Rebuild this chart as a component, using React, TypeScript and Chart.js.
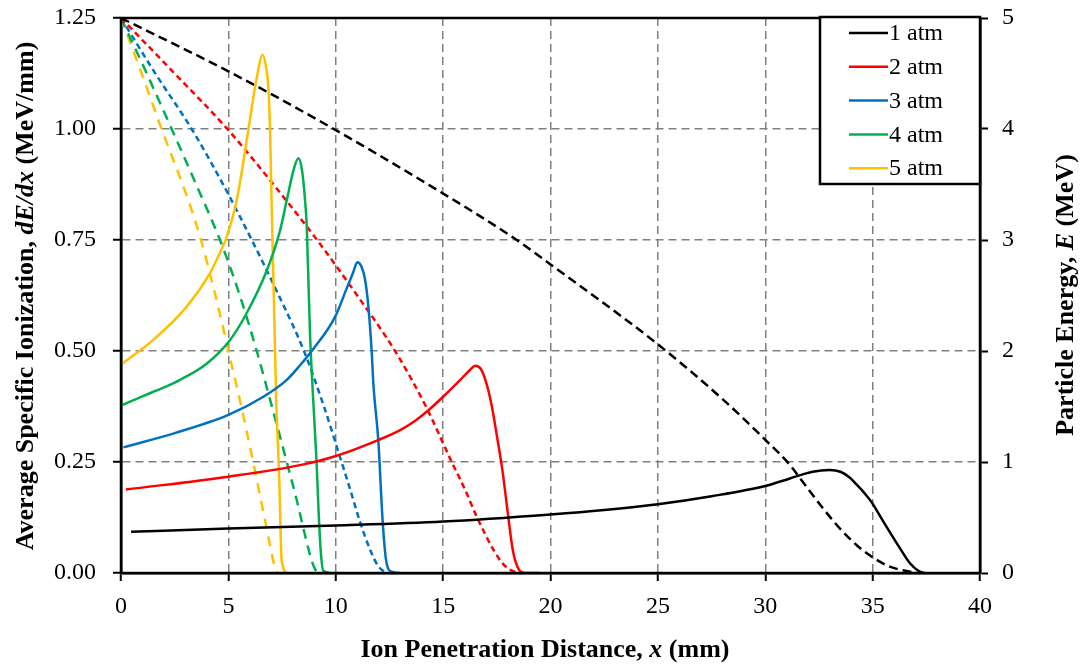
import React, { useEffect, useRef } from "react";
import { Chart, registerables } from "chart.js";

Chart.register(...registerables);

const FONT = "'Liberation Serif', 'Times New Roman', serif";

const seriesLabels = ["1 atm", "2 atm", "3 atm", "4 atm", "5 atm"];
const seriesColors = ["#000000", "#FF0000", "#0070C0", "#00B050", "#FFC000"];
const energyDashes = [[9, 5], [6, 4], [6, 4], [10, 7], [10, 8]];

// Average specific ionization dE/dx (MeV/mm), left axis
const atm1IonX = [0.47, 5, 10, 15, 20, 22.5, 25, 27.5, 30, 31.15, 32.2, 33.0, 33.5, 33.9, 34.26, 34.6, 34.96, 35.3, 35.65, 36.27, 36.74, 37.13, 37.4];
const atm1IonY = [0.093, 0.1, 0.107, 0.116, 0.132, 0.142, 0.155, 0.173, 0.196, 0.213, 0.228, 0.232, 0.228, 0.216, 0.199, 0.181, 0.159, 0.132, 0.104, 0.056, 0.022, 0.005, 0];
const atm2IonX = [0.23, 5, 8.34, 9.97, 12, 13, 13.7, 14.3, 15, 15.8, 16.2, 16.5, 16.75, 17.0, 17.25, 17.5, 17.75, 18.0, 18.25, 18.5, 18.8, 19.5];
const atm2IonY = [0.188, 0.217, 0.243, 0.263, 0.3, 0.322, 0.343, 0.366, 0.397, 0.435, 0.455, 0.467, 0.46, 0.43, 0.38, 0.31, 0.235, 0.14, 0.05, 0.01, 0, 0];
const atm3IonX = [0.11, 2.5, 5, 6.63, 7.72, 8.34, 8.88, 9.97, 10.51, 10.82, 11.0, 11.2, 11.36, 11.52, 11.67, 11.76, 11.98, 12.18, 12.34, 12.6, 12.99];
const atm3IonY = [0.283, 0.315, 0.356, 0.397, 0.435, 0.468, 0.5, 0.577, 0.641, 0.678, 0.7, 0.69, 0.662, 0.6, 0.502, 0.42, 0.3, 0.12, 0.03, 0.003, 0];
const atm4IonX = [0.05, 1.0, 2.0, 2.75, 4.0, 5.08, 5.85, 6.78, 7.4, 7.72, 8.05, 8.26, 8.42, 8.57, 8.65, 8.8, 8.95, 9.11, 9.2, 9.3, 9.42, 9.8];
const atm4IonY = [0.378, 0.398, 0.418, 0.435, 0.472, 0.525, 0.585, 0.68, 0.77, 0.84, 0.91, 0.934, 0.91, 0.84, 0.78, 0.54, 0.39, 0.247, 0.14, 0.05, 0.005, 0];
const atm5IonX = [0.08, 1.5, 3.06, 4.14, 4.5, 4.92, 5.39, 5.93, 6.3, 6.6, 6.75, 6.86, 6.94, 7.02, 7.12, 7.22, 7.37, 7.48, 7.72];
const atm5IonY = [0.472, 0.525, 0.6, 0.675, 0.71, 0.757, 0.84, 0.998, 1.11, 1.167, 1.14, 1.095, 1.0, 0.82, 0.615, 0.4, 0.21, 0.03, 0];

// Particle energy E (MeV), right axis
const atm1EnX = [0, 5, 9.27, 14.39, 18.43, 20, 25, 28.05, 30, 31.15, 31.62, 32.7, 33.48, 34.26, 34.96, 35.8, 36.59, 37.1];
const atm1EnY = [5.0, 4.52, 4.07, 3.49, 3.0, 2.78, 2.06, 1.56, 1.2, 0.973, 0.853, 0.58, 0.4, 0.25, 0.147, 0.057, 0.018, 0];
const atm2EnX = [0, 2.5, 5, 7.1, 9.13, 11.0, 12.76, 14.2, 15.4, 16.0, 16.56, 17.34, 17.8, 18.1, 18.5];
const atm2EnY = [5.0, 4.5, 3.99, 3.5, 3.0, 2.5, 2.0, 1.5, 1.0, 0.76, 0.51, 0.21, 0.08, 0.03, 0];
const atm3EnX = [0, 1.6, 3.29, 4.7, 6.09, 7.35, 8.52, 9.45, 10.27, 10.66, 11.13, 11.6, 11.95, 12.2, 12.4];
const atm3EnY = [5.0, 4.5, 4.0, 3.52, 3.0, 2.5, 2.0, 1.5, 1.0, 0.76, 0.46, 0.21, 0.07, 0.02, 0];
const atm4EnX = [0, 1.2, 2.36, 3.5, 4.61, 5.5, 6.32, 7.0, 7.72, 8.18, 8.57, 8.9, 9.05, 9.2];
const atm4EnY = [5.0, 4.5, 4.0, 3.5, 3.0, 2.52, 2.0, 1.52, 1.0, 0.66, 0.34, 0.1, 0.03, 0];
const atm5EnX = [0, 1.0, 1.89, 3.13, 3.68, 4.14, 4.61, 5.0, 5.46, 5.85, 6.24, 6.63, 6.94, 7.1, 7.2, 7.3];
const atm5EnY = [5.0, 4.48, 4.0, 3.36, 3.03, 2.7, 2.33, 2.0, 1.62, 1.28, 0.92, 0.55, 0.25, 0.1, 0.03, 0];

const ionX = [atm1IonX, atm2IonX, atm3IonX, atm4IonX, atm5IonX];
const ionY = [atm1IonY, atm2IonY, atm3IonY, atm4IonY, atm5IonY];
const enX = [atm1EnX, atm2EnX, atm3EnX, atm4EnX, atm5EnX];
const enY = [atm1EnY, atm2EnY, atm3EnY, atm4EnY, atm5EnY];

const xTitle = [
  { text: "Ion Penetration Distance, ", italic: false },
  { text: "x", italic: true },
  { text: " (mm)", italic: false },
];
const yTitle = [
  { text: "Average Specific Ionization, ", italic: false },
  { text: "dE/dx", italic: true },
  { text: " (MeV/mm)", italic: false },
];
const y2Title = [
  { text: "Particle Energy, ", italic: false },
  { text: "E", italic: true },
  { text: " (MeV)", italic: false },
];

function zip(xs: number[], ys: number[]) {
  return xs.map((x, i) => ({ x, y: ys[i] }));
}

function drawRich(ctx: CanvasRenderingContext2D, segs: { text: string; italic: boolean }[], cx: number, cy: number, rot: number, size: number) {
  ctx.save();
  ctx.translate(cx, cy);
  ctx.rotate(rot);
  const fonts = segs.map((s) => `${s.italic ? "italic " : ""}bold ${size}px ${FONT}`);
  let total = 0;
  segs.forEach((s, i) => {
    ctx.font = fonts[i];
    total += ctx.measureText(s.text).width;
  });
  let x = -total / 2;
  ctx.textBaseline = "middle";
  ctx.textAlign = "left";
  ctx.fillStyle = "#000";
  segs.forEach((s, i) => {
    ctx.font = fonts[i];
    ctx.fillText(s.text, x, 0);
    x += ctx.measureText(s.text).width;
  });
  ctx.restore();
}

const decorPlugin = {
  id: "decor",
  afterDatasetsDraw(chart: any) {
    const { ctx, chartArea } = chart;
    ctx.save();
    ctx.strokeStyle = "#000";
    ctx.lineWidth = 2.5;
    ctx.setLineDash([]);
    ctx.strokeRect(chartArea.left, chartArea.top, chartArea.right - chartArea.left, chartArea.bottom - chartArea.top);
    ctx.restore();
  },
  afterDraw(chart: any) {
    const { ctx, chartArea } = chart;
    const bx = chartArea.right - 160;
    const by = chartArea.top - 1;
    const bw = 160;
    const bh = 167;
    ctx.save();
    ctx.fillStyle = "#fff";
    ctx.fillRect(bx, by, bw, bh);
    ctx.strokeStyle = "#000";
    ctx.lineWidth = 2.5;
    ctx.setLineDash([]);
    ctx.strokeRect(bx, by, bw, bh);
    ctx.font = `24px ${FONT}`;
    ctx.textBaseline = "middle";
    ctx.textAlign = "left";
    seriesLabels.forEach((lab, i) => {
      const y = by + 16 + i * 33.8;
      ctx.strokeStyle = seriesColors[i];
      ctx.lineWidth = 2.5;
      ctx.beginPath();
      ctx.moveTo(bx + 29, y);
      ctx.lineTo(bx + 68, y);
      ctx.stroke();
      ctx.fillStyle = "#000";
      ctx.fillText(lab, bx + 69, y + 1);
    });
    ctx.restore();
    drawRich(ctx, xTitle, 545, 650, 0, 26);
    drawRich(ctx, yTitle, 26, 296, -Math.PI / 2, 26);
    drawRich(ctx, y2Title, 1066, 295, -Math.PI / 2, 26);
  },
};

export default function App() {
  const ref = useRef<HTMLCanvasElement | null>(null);
  useEffect(() => {
    if (!ref.current) return;
    const datasets: any[] = [];
    for (let i = 0; i < 5; i++) {
      datasets.push({
        label: seriesLabels[i],
        data: zip(ionX[i], ionY[i]),
        yAxisID: "y",
        borderColor: seriesColors[i],
        backgroundColor: seriesColors[i],
        borderWidth: 2.5,
        pointRadius: 0,
        cubicInterpolationMode: "monotone",
        fill: false,
      });
    }
    for (let i = 0; i < 5; i++) {
      datasets.push({
        label: seriesLabels[i] + " E",
        data: zip(enX[i], enY[i]),
        yAxisID: "y2",
        borderColor: seriesColors[i],
        backgroundColor: seriesColors[i],
        borderWidth: 2.5,
        borderDash: energyDashes[i],
        pointRadius: 0,
        cubicInterpolationMode: "monotone",
        fill: false,
      });
    }
    const tickFont = { family: FONT, size: 24 };
    const fixVertical = (w: number) => (s: any) => {
      s.width = w;
      s.paddingTop = 10;
      s.paddingBottom = 10;
    };
    const chart = new Chart(ref.current, {
      type: "line",
      data: { datasets },
      plugins: [decorPlugin],
      options: {
        responsive: false,
        animation: false,
        layout: { padding: { top: 18, left: 0, right: 0, bottom: 0 } },
        plugins: { legend: { display: false }, tooltip: { enabled: false }, title: { display: false } },
        scales: {
          x: {
            type: "linear",
            min: 0,
            max: 40,
            ticks: { stepSize: 5, font: tickFont, color: "#000", padding: 11, maxRotation: 0 },
            grid: { color: "#808080", lineWidth: 1.5, tickColor: "#000", tickWidth: 2, tickLength: 8, tickBorderDash: [] },
            border: { display: true, color: "#000", width: 2.5, dash: [8, 5] },
            afterFit: (s: any) => { s.height = 92; },
          },
          y: {
            type: "linear",
            position: "left",
            min: 0,
            max: 1.25,
            ticks: { stepSize: 0.25, font: tickFont, color: "#000", padding: 17, callback: (v: any) => Number(v).toFixed(2) },
            grid: { color: "#808080", lineWidth: 1.5, tickColor: "#000", tickWidth: 2, tickLength: 8, tickBorderDash: [] },
            border: { display: true, color: "#000", width: 2.5, dash: [8, 5] },
            afterFit: fixVertical(121),
          },
          y2: {
            type: "linear",
            position: "right",
            min: 0,
            max: 5,
            ticks: { stepSize: 1, font: tickFont, color: "#000", padding: 14 },
            grid: { drawOnChartArea: false, color: "#000", tickColor: "#000", tickWidth: 2, tickLength: 8 },
            border: { display: true, color: "#000", width: 2.5 },
            afterFit: fixVertical(102),
          },
        },
      } as any,
    });
    return () => chart.destroy();
  }, []);
  return (
    <div style={{ position: "fixed", left: 0, top: 0, width: 1082, height: 665, background: "#fff" }}>
      <canvas ref={ref} width={1082} height={665} style={{ display: "block" }} />
    </div>
  );
}
